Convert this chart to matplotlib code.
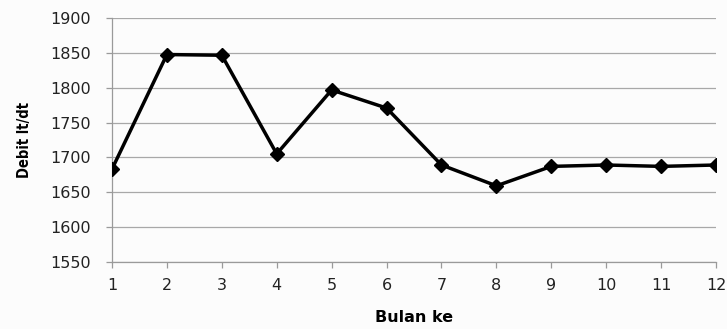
import matplotlib.pyplot as plt

bulan = [1, 2, 3, 4, 5, 6, 7, 8, 9, 10, 11, 12]
debit = [1683, 1848, 1847, 1705, 1797, 1771, 1689, 1659, 1687, 1689, 1687, 1689]
yticks = [1550, 1600, 1650, 1700, 1750, 1800, 1850, 1900]

fig = plt.figure(figsize=(7.27, 3.29), dpi=100)
fig.patch.set_facecolor('#fcfcfc')
ax = fig.add_axes([0.154, 0.205, 0.831, 0.739])
ax.set_facecolor('#fcfcfc')

ax.plot(bulan, debit, color='black', lw=2.5, marker='D', ms=7.5,
        mfc='black', mec='black', zorder=3, solid_joinstyle='miter')

ax.set_xlim(1, 12)
ax.set_ylim(1550, 1900)
ax.set_xticks(bulan)
ax.set_yticks(yticks)
ax.yaxis.grid(True, color='#a8a8a8', lw=0.9)
ax.set_axisbelow(True)

for s in ['top', 'right']:
    ax.spines[s].set_visible(False)
for s in ['left', 'bottom']:
    ax.spines[s].set_color('#9a9a9a')
    ax.spines[s].set_linewidth(0.9)

ax.tick_params(axis='both', colors='#9a9a9a', length=4, width=0.9,
               labelcolor='#222222', labelsize=11.5)
ax.tick_params(axis='x', pad=8)
ax.tick_params(axis='y', pad=11)
for lab in ax.get_xticklabels() + ax.get_yticklabels():
    lab.set_family('DejaVu Sans')

ax.set_xlabel('Bulan ke', fontsize=11.5, fontweight='bold', labelpad=12,
              family='DejaVu Sans')
ax.set_ylabel('Debit lt/dt', fontsize=10.5, fontweight='bold', labelpad=13,
              family='DejaVu Sans', fontstretch='condensed')

fig.savefig('out.png', dpi=100, facecolor=fig.get_facecolor())
